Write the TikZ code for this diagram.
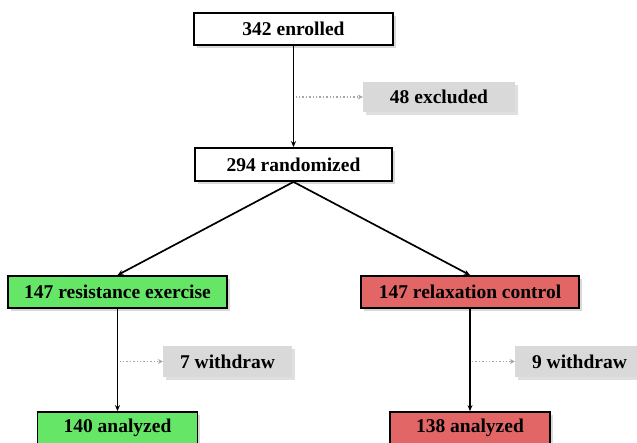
\documentclass[tikz,border=0pt]{standalone}
\usepackage{fontspec}
\setmainfont{Liberation Serif}
\usetikzlibrary{arrows.meta,shadows}
\definecolor{grp}{RGB}{102,230,102}
\definecolor{ctl}{RGB}{226,102,102}
\definecolor{gry}{RGB}{217,217,217}
\begin{document}
\begin{tikzpicture}[x=1pt,y=-1pt,line cap=butt,line join=miter,>={Stealth[length=6pt,width=5pt]},font=\fontsize{19.5}{23}\selectfont\bfseries]
	\tikzset{box/.style={draw=black,line width=1.8pt,inner sep=0pt,minimum height=32pt,
			drop shadow={shadow xshift=2.5pt,shadow yshift=-2.5pt,opacity=0.3}},
		side/.style={fill=gry,inner sep=0pt,minimum width=129pt,minimum height=31pt,
			drop shadow={shadow xshift=2.5pt,shadow yshift=-2.5pt,opacity=0.25}},
		flow/.style={->,line width=1.7pt},
		drop/.style={->,black!35,line width=1.4pt,dash pattern=on 1.4pt off 2pt,>={Stealth[length=5pt,width=5pt]}}}
	\useasboundingbox (0,0) rectangle (637,442);
	%--------- Khung
	\node[box,fill=white,minimum width=199pt] (enrol) at (293.5,29) {342 enrolled};
	\node[side,minimum width=152pt,minimum height=30pt] (excl) at (439,97) {48 excluded};
	\node[box,fill=white,minimum width=197pt,minimum height=33pt] (rand) at (293.5,164.5) {294 randomized};
	\node[box,fill=grp,minimum width=219pt] (resist) at (117.5,292) {147 resistance exercise};
	\node[box,fill=ctl,minimum width=218pt] (relax) at (470,292) {147 relaxation control};
	\node[side] (wdA) at (227.5,361.5) {7 withdraw};
	\node[side] (wdB) at (579.5,361.5) {9 withdraw};
	\node[box,fill=grp,minimum width=160pt] (anaA) at (117.5,428) {140 analyzed};
	\node[box,fill=ctl,minimum width=160pt] (anaB) at (470,428) {138 analyzed};
	%--------- Mui ten
	\draw[flow] (enrol.south) -- (rand.north);
	\draw[flow] (rand.south) -- (resist.north);
	\draw[flow] (rand.south) -- (relax.north);
	\draw[flow] (resist.south) -- (anaA.north);
	\draw[flow] (relax.south) -- (anaB.north);
	\coordinate (exA) at (enrol.south |- excl.west);
	\coordinate (exB) at (resist.south |- wdA.west);
	\coordinate (exC) at (relax.south |- wdB.west);
	\draw[drop] ([xshift=2pt]exA) -- (excl.west);
	\draw[drop] ([xshift=2pt]exB) -- (wdA.west);
	\draw[drop] ([xshift=2pt]exC) -- (wdB.west);
\end{tikzpicture}
\end{document}
